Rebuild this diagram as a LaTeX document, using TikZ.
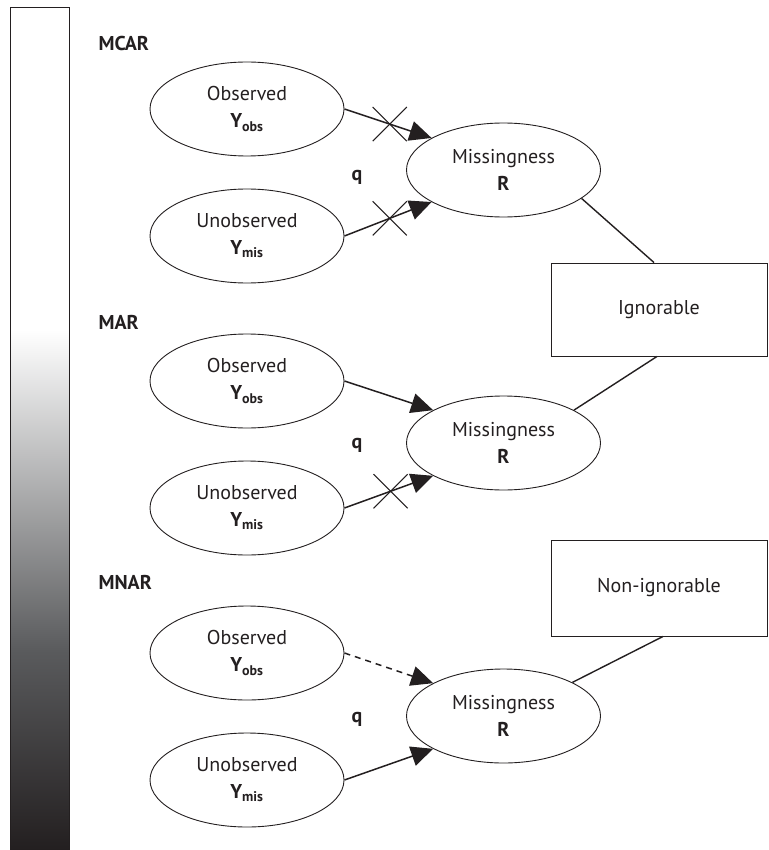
\documentclass[tikz,border=0pt]{standalone}
\usepackage{fontspec}
\setmainfont{PT Sans}
\usetikzlibrary{arrows.meta,shapes.geometric,shapes.misc}
\definecolor{barend}{HTML}{231F20}
\definecolor{barmid}{HTML}{5A5B5D}
\definecolor{ink}{HTML}{231F20}
\begin{document}
\begin{tikzpicture}[x=1pt,y=-1pt,
  ell/.style={draw=ink, line width=0.9pt, ellipse, minimum width=194pt, minimum height=94pt,
    inner sep=0pt, align=center, font=\fontsize{20}{27}\selectfont, text=ink},
  boxnode/.style={draw=ink, line width=0.9pt, rectangle, minimum width=216pt, inner sep=0pt,
    font=\fontsize{20}{24}\selectfont, text=ink},
  lbl/.style={anchor=west, font=\bfseries\fontsize{20}{24}\selectfont, text=ink},
  qlbl/.style={font=\bfseries\fontsize{20}{24}\selectfont, text=ink},
  arr/.style={line width=1.5pt, draw=ink, -{Triangle[length=22pt,width=20pt]}},
  conn/.style={line width=1.4pt, draw=ink},
  xmark/.style={cross out, draw=ink, line width=1.1pt, minimum size=33pt, inner sep=0pt}
]
\useasboundingbox (0,0) rectangle (768,850);
% gradient bar
\fill[white] (10,7) rectangle (69,330);
\shade[top color=white, bottom color=barmid] (10,330) rectangle (69,650);
\shade[top color=barmid, bottom color=barend] (10,650) rectangle (69,850);
\draw[ink, line width=0.9pt] (10,850) -- (10,7) -- (69,7) -- (69,850);

% labels
\node[lbl] (lmcar) at (95,44) {MCAR};
\node[lbl] (lmar) at (95,322) {MAR};
\node[lbl] (lmnar) at (95,582) {MNAR};

% MCAR
\node[ell] (oA) at (247,109) {Observed\\\textbf{Y\textsubscript{obs}}};
\node[ell] (uA) at (247,236) {Unobserved\\\textbf{Y\textsubscript{mis}}};
\node[ell] (mA) at (503.5,170) {Missingness\\\textbf{R}};
\node[qlbl] (qA) at (357,177) {q};
% MAR
\node[ell] (oB) at (247,381) {Observed\\\textbf{Y\textsubscript{obs}}};
\node[ell] (uB) at (247,508) {Unobserved\\\textbf{Y\textsubscript{mis}}};
\node[ell] (mB) at (503.5,443) {Missingness\\\textbf{R}};
\node[qlbl] (qB) at (357,445) {q};
% MNAR
\node[ell] (oC) at (247,653) {Observed\\\textbf{Y\textsubscript{obs}}};
\node[ell] (uC) at (247,780) {Unobserved\\\textbf{Y\textsubscript{mis}}};
\node[ell] (mC) at (503.5,716) {Missingness\\\textbf{R}};
\node[qlbl] (qC) at (357,719) {q};

% boxes
\node[boxnode, minimum height=93pt] (ign) at (659,309.5) {Ignorable};
\node[boxnode, minimum height=96pt] (nig) at (659,588) {Non-ignorable};

% arrows
\draw[arr] (oA.east) -- node[xmark, pos=0.52] (xA1) {} (mA.156);
\draw[arr] (uA.east) -- node[xmark, pos=0.52] (xA2) {} (mA.204);
\draw[arr] (oB.east) -- (mB.155);
\draw[arr] (uB.east) -- node[xmark, pos=0.52] (xB2) {} (mB.205);
\draw[arr, dash pattern=on 6pt off 5pt] (oC.east) -- (mC.155);
\draw[arr] (uC.east) -- (mC.205);

% connectors to boxes
\draw[conn] (mA.-20) -- ([xshift=-5pt]ign.north);
\draw[conn] (mB.25) -- ([xshift=-2pt]ign.south);
\draw[conn] (mC.26) -- ([xshift=4pt]nig.south);
\end{tikzpicture}
\end{document}
